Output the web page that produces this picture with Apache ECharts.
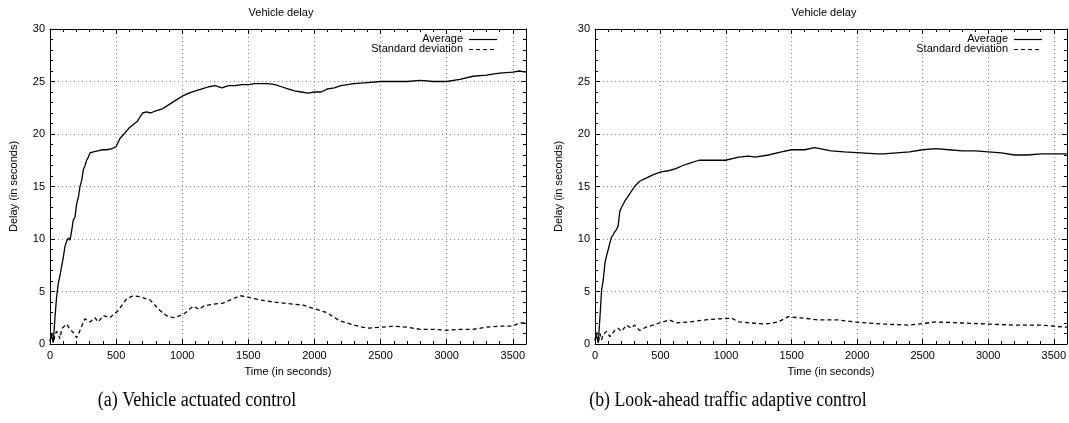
<!DOCTYPE html>
<html>
<head>
<meta charset="utf-8">
<script src="https://cdn.jsdelivr.net/npm/echarts@6/dist/echarts.min.js"></script>
<style>html,body{margin:0;padding:0;background:#fff}#c{width:1069px;height:423px}</style>
</head>
<body>
<div id="c"></div>
<script>
// ---- Data ----
const chartTitle = "Vehicle delay";
const seriesNames = ["Average", "Standard deviation"];
const captions = ["(a) Vehicle actuated control", "(b) Look-ahead traffic adaptive control"];
const xTicks = [0, 500, 1000, 1500, 2000, 2500, 3000, 3500];
const yTicks = [0, 5, 10, 15, 20, 25, 30];

// (a) Vehicle actuated control - Average
const timeA_avg = [0,10,25,38,50,63,75,88,100,113,126,139,151,164,176,189,202,215,227,240,252,265,277,290,302,328,360,400,430,470,500,530,560,600,630,660,700,730,760,800,850,900,950,1000,1050,1100,1150,1200,1250,1300,1350,1400,1450,1500,1550,1600,1650,1700,1750,1800,1850,1900,1950,2000,2050,2100,2150,2200,2300,2400,2500,2600,2700,2800,2900,3000,3100,3200,3300,3400,3500,3550,3600];
const avgA = [0.3,0.9,0.2,2.6,4.5,5.8,6.5,7.4,8.2,9.3,9.8,10.1,9.9,10.8,11.8,12.1,13.4,14.0,15.0,15.6,16.6,17.0,17.5,17.8,18.2,18.3,18.4,18.5,18.5,18.6,18.8,19.6,20.0,20.6,20.9,21.2,22.0,22.1,22.0,22.2,22.4,22.8,23.2,23.6,23.9,24.1,24.3,24.5,24.6,24.4,24.6,24.6,24.7,24.7,24.8,24.8,24.8,24.7,24.5,24.3,24.1,24.0,23.9,24.0,24.0,24.3,24.4,24.6,24.8,24.9,25.0,25.0,25.0,25.1,25.0,25.0,25.2,25.5,25.6,25.8,25.9,26.0,25.9];

// (a) Vehicle actuated control - Standard deviation
const timeA_std = [0,15,25,38,50,63,75,88,100,126,151,176,202,215,227,264,302,340,365,403,453,479,516,579,630,680,756,831,882,932,1008,1083,1130,1159,1235,1310,1386,1436,1487,1587,1688,1839,1915,1990,2091,2192,2300,2400,2500,2600,2700,2800,2900,3000,3100,3200,3300,3400,3500,3550,3600];
const stdA = [0.2,1.0,0.1,0.9,1.2,0.9,0.5,1.4,1.6,1.9,1.4,1.1,0.6,0.9,1.3,2.4,2.1,2.5,2.1,2.7,2.5,2.8,3.2,4.3,4.6,4.5,4.2,3.2,2.7,2.5,2.8,3.6,3.3,3.6,3.8,3.9,4.3,4.6,4.5,4.2,4.0,3.8,3.7,3.4,3.0,2.2,1.8,1.5,1.6,1.7,1.6,1.4,1.4,1.3,1.4,1.4,1.6,1.7,1.7,2.0,2.0];

// (b) Look-ahead traffic adaptive control - Average
const timeB_avg = [0,10,25,38,50,63,76,88,101,113,126,139,151,164,176,189,202,227,265,302,340,391,441,504,560,617,670,718,794,850,894,950,995,1096,1172,1222,1323,1423,1499,1600,1676,1801,1902,2028,2154,2200,2300,2400,2500,2600,2700,2800,2900,3000,3100,3200,3300,3400,3500,3600];
const avgB = [0.4,0.9,0.1,2.6,5.1,6.1,7.7,8.4,9.0,9.6,10.2,10.4,10.7,10.9,11.2,12.6,13.0,13.6,14.3,15.0,15.5,15.8,16.1,16.4,16.5,16.7,17.0,17.2,17.5,17.5,17.5,17.5,17.5,17.8,17.9,17.8,18.0,18.3,18.5,18.5,18.7,18.4,18.3,18.2,18.1,18.1,18.2,18.3,18.5,18.6,18.5,18.4,18.4,18.3,18.2,18.0,18.0,18.1,18.1,18.1];

// (b) Look-ahead traffic adaptive control - Standard deviation
const timeB_std = [0,15,25,38,50,63,88,113,151,176,202,240,277,302,340,391,491,567,617,718,844,945,1045,1096,1197,1298,1398,1474,1600,1700,1852,1978,2079,2200,2400,2600,2800,3000,3200,3400,3600];
const stdB = [0.3,1.1,0.1,1.0,0.4,0.9,1.2,0.7,1.3,1.5,1.2,1.8,1.5,1.8,1.3,1.6,2.0,2.3,2.0,2.1,2.3,2.4,2.45,2.1,2.0,1.9,2.1,2.6,2.45,2.3,2.3,2.1,2.0,1.9,1.8,2.1,2.0,1.9,1.8,1.8,1.6];

// ---- Chart ----
const zip = (t, v) => t.map((x, i) => [x, v[i]]);
const FONT = "'Liberation Sans', Arial, Helvetica, sans-serif";
const SERIF = '"Liberation Serif", "Times New Roman", serif';
const chart = echarts.init(document.getElementById('c'), null, {renderer: 'canvas'});

const grids = [
  {left: 50, top: 29, width: 476, height: 315},
  {left: 595, top: 29, width: 476, height: 315}
];

function xAxisFor(gi, pos) {
  const main = pos === 'bottom';
  return {
    type: 'value', gridIndex: gi, position: pos, min: 0, max: 3600, interval: 500,
    name: main ? 'Time (in seconds)' : '', nameLocation: 'middle', nameGap: 22,
    nameTextStyle: {fontFamily: FONT, fontSize: 11, color: '#000'},
    axisLine: {show: true, onZero: false, lineStyle: {color: '#000', width: 1}},
    axisTick: {show: true, inside: true, length: 5, lineStyle: {color: '#000'}},
    minorTick: {show: true, splitNumber: 5, length: 3, lineStyle: {color: '#000'}},
    axisLabel: {show: main, showMaxLabel: false, margin: 6, fontFamily: FONT, fontSize: 11, color: '#000',
      formatter: v => xTicks.includes(v) ? String(v) : ''},
    splitLine: {show: main, lineStyle: {color: '#8a8a8a', type: [1, 3], width: 1}}
  };
}
function yAxisFor(gi, pos) {
  const main = pos === 'left';
  return {
    type: 'value', gridIndex: gi, position: pos, min: 0, max: 30, interval: 5,
    name: main ? 'Delay (in seconds)' : '', nameLocation: 'middle', nameGap: 31,
    nameTextStyle: {fontFamily: FONT, fontSize: 11, color: '#000'},
    axisLine: {show: true, onZero: false, lineStyle: {color: '#000', width: 1}},
    axisTick: {show: true, inside: true, length: 5, lineStyle: {color: '#000'}},
    minorTick: {show: true, splitNumber: 5, length: 3, lineStyle: {color: '#000'}},
    axisLabel: {show: main, margin: 5, fontFamily: FONT, fontSize: 11, color: '#000',
      formatter: v => yTicks.includes(v) ? String(v) : ''},
    splitLine: {show: main, lineStyle: {color: '#8a8a8a', type: [1, 3], width: 1}}
  };
}

function lineSeries(name, gi, data, dashed) {
  return {
    name: name, type: 'line', xAxisIndex: gi * 2, yAxisIndex: gi * 2, data: data,
    symbol: 'none', smooth: false, animation: false,
    lineStyle: {color: '#000', width: 1.3, type: dashed ? [4, 3] : 'solid'},
    itemStyle: {color: '#000'}
  };
}

// Legend drawn as graphic (text right-aligned, with line sample on its right)
function legendGraphic(textRight, y0) {
  const els = [];
  seriesNames.forEach((n, i) => {
    const y = y0 + i * 10;
    els.push({type: 'text', x: textRight, y: y,
      style: {text: n, textAlign: 'right', textVerticalAlign: 'middle', font: '11px ' + FONT, fill: '#000'}});
    els.push({type: 'line', shape: {x1: textRight + 6, y1: y + 0.5, x2: textRight + 34, y2: y + 0.5},
      style: {stroke: '#000', lineWidth: 1.2, lineDash: i === 1 ? [4, 3] : null}});
  });
  return els;
}

const option = {
  backgroundColor: '#fff',
  animation: false,
  grid: grids,
  xAxis: [xAxisFor(0, 'bottom'), xAxisFor(0, 'top'), xAxisFor(1, 'bottom'), xAxisFor(1, 'top')],
  yAxis: [yAxisFor(0, 'left'), yAxisFor(0, 'right'), yAxisFor(1, 'left'), yAxisFor(1, 'right')],
  series: [
    lineSeries(seriesNames[0], 0, zip(timeA_avg, avgA), false),
    lineSeries(seriesNames[1], 0, zip(timeA_std, stdA), true),
    lineSeries(seriesNames[0], 1, zip(timeB_avg, avgB), false),
    lineSeries(seriesNames[1], 1, zip(timeB_std, stdB), true)
  ],
  graphic: [
    {type: 'text', x: 281, y: 13, style: {text: chartTitle, textAlign: 'center', textVerticalAlign: 'middle', font: '11px ' + FONT, fill: '#000'}},
    {type: 'text', x: 824, y: 13, style: {text: chartTitle, textAlign: 'center', textVerticalAlign: 'middle', font: '11px ' + FONT, fill: '#000'}},
    {type: 'text', x: 197, y: 401, scaleX: 0.9, style: {text: captions[0], textAlign: 'center', textVerticalAlign: 'middle', font: '20px ' + SERIF, fill: '#000'}},
    {type: 'text', x: 728, y: 401, scaleX: 0.89, style: {text: captions[1], textAlign: 'center', textVerticalAlign: 'middle', font: '20px ' + SERIF, fill: '#000'}}
  ].concat(legendGraphic(463, 39), legendGraphic(1008, 39))
};
chart.setOption(option);
</script>
</body>
</html>
